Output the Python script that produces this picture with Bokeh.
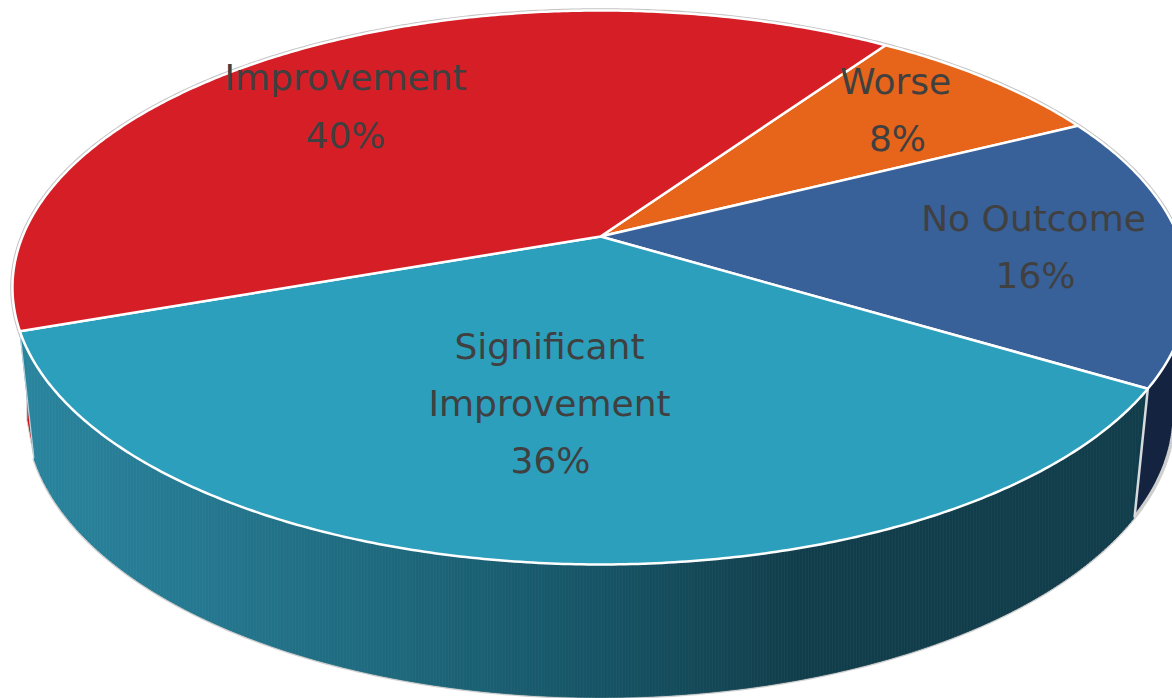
import numpy as np
from bokeh.core.properties import value
from bokeh.embed import file_html
from bokeh.models import Range1d
from bokeh.plotting import figure
from bokeh.resources import INLINE

# Share of outcomes per category, clockwise from the "Worse" wedge
categories = ["Worse", "No Outcome", "Significant Improvement", "Improvement"]
shares = [8, 16, 36, 40]
top_colors = ["#E7641B", "#38619A", "#2C9FBD", "#D61E26"]
navy_wall = "#14233F"
red_wall = "#C8151D"

# Label lines and their anchors on the canvas
label_lines = ["Worse", "8%", "No Outcome", "16%", "Significant", "Improvement", "36%", "Improvement", "40%"]
label_x = [895, 897, 1033, 1035, 549, 549, 550, 345, 345]
label_y = [81, 138, 218, 275, 346, 403, 460, 77, 135]

# Shading of the cylinder wall from left to right
wall_stop_x = [20, 200, 400, 600, 800, 1140]
wall_stop_r = [42, 37, 30, 22, 18, 18]
wall_stop_g = [133, 120, 104, 84, 62, 62]
wall_stop_b = [158, 144, 124, 102, 75, 76]

START_ANGLE = 34.6
PERSPECTIVE = 0.184
CX = 600
CY = 236


def project(angle_deg, radius, y0, height):
    a = np.radians(angle_deg)
    u, v = np.sin(a), np.cos(a)
    w = 1 + PERSPECTIVE * v
    return CX + radius * u / w, y0 - height * v / w


def top(angle_deg):
    return project(angle_deg, 578, CY, 267.6)


def bottom(angle_deg):
    return project(angle_deg, 564, 360.5, 274.5)


def wall_color(x):
    r = np.interp(x, wall_stop_x, wall_stop_r)
    g = np.interp(x, wall_stop_x, wall_stop_g)
    b = np.interp(x, wall_stop_x, wall_stop_b)
    return "#%02x%02x%02x" % (round(r), round(g), round(b))


def arc_angles(a0, a1):
    return np.append(np.arange(a0, a1, 0.5), a1)


p = figure(width=1172, height=698, x_range=Range1d(0, 1172), y_range=Range1d(698, 0),
           x_axis_type=None, y_axis_type=None, toolbar_location=None,
           output_backend="svg", min_border=0, outline_line_color=None,
           background_fill_color="white", border_fill_color="white")
p.grid.visible = False

edges = START_ANGLE + np.concatenate([[0], np.cumsum(shares)]) * 3.6
teal_start, teal_end = edges[2], edges[3]

# Silver rim behind the disc
p.line(*top(np.arange(0, 360.5, 0.5)), line_color="#c4c4c4", line_width=4.5)

# Navy wall on the right of the front wedge
nx, ny = top(arc_angles(100.0, teal_start + 1))
mx, my = bottom(arc_angles(100.0, teal_start + 1))
p.patch(np.r_[nx, mx[::-1]], np.r_[ny, my[::-1]], fill_color=navy_wall, line_color=navy_wall, line_width=1)

# Red sliver on the left: the top arc closes along the silhouette to the foot of the seam
rx, ry = top(arc_angles(teal_end - 1, 272.0))
bulge_x, bulge_y = bottom(258.0)
foot_x, foot_y = bottom(teal_end)
p.patch(np.r_[rx, bulge_x, foot_x], np.r_[ry, bulge_y, foot_y], fill_color=red_wall,
        line_color="#d8d8d8", line_width=1)

# Silver rim under the wall
p.line(*bottom(arc_angles(100.0, teal_end)), line_color="#cfcfcf", line_width=3.5)

# Front wall as slim vertical bands, so the shading runs purely across x
arc = arc_angles(teal_start, teal_end)
top_x, top_y = top(arc)
low_x, low_y = bottom(arc)
top_order = np.argsort(top_x)
low_order = np.argsort(low_x)
band_x = np.arange(top_x.min(), top_x.max() + 3, 3.0)
band_top = np.interp(band_x, top_x[top_order], top_y[top_order])
band_low = np.interp(band_x, low_x[low_order], low_y[low_order])
# Where the wall overhangs the lower arc, follow the slanted seams instead
left_seam = band_x < low_x.min()
band_low[left_seam] = np.interp(band_x[left_seam], [top_x.min(), low_x.min()], [top_y[top_x.argmin()], low_y[low_x.argmin()]])
right_seam = band_x > low_x.max()
band_low[right_seam] = np.interp(band_x[right_seam], [low_x.max(), top_x.max()], [low_y[low_x.argmax()], top_y[top_x.argmax()]])
xs, ys, fills = [], [], []
for i in range(len(band_x) - 1):
    xs.append([band_x[i], band_x[i + 1], band_x[i + 1], band_x[i]])
    ys.append([band_top[i], band_top[i + 1], band_low[i + 1], band_low[i]])
    fills.append(wall_color(band_x[i] + 1.5))
p.patches(xs, ys, fill_color=fills, line_color=fills, line_width=0.8)

# Vertical seams where the wall changes colour
for a, seam, seam_width in zip((teal_start, teal_end), ("#d5dadd", "#b9d3dc"), (2.5, 1.2)):
    tx, ty = top(a)
    bx, by = bottom(a)
    p.line([tx, bx], [ty, by], line_color=seam, line_width=seam_width)

# Wedges on the top face
for a0, a1, color in zip(edges[:-1], edges[1:], top_colors):
    ax, ay = top(arc_angles(a0, a1))
    p.patch(np.r_[CX, ax], np.r_[CY, ay], fill_color=color, line_color="white",
            line_width=2.5, line_join="round")

# Labels
p.text(label_x, label_y, text=label_lines, text_align="center", text_baseline="middle",
       text_font=value("DejaVu Sans"), text_font_size="36px", text_color="#404040")

open("out.html", "w").write(file_html(p, INLINE))
